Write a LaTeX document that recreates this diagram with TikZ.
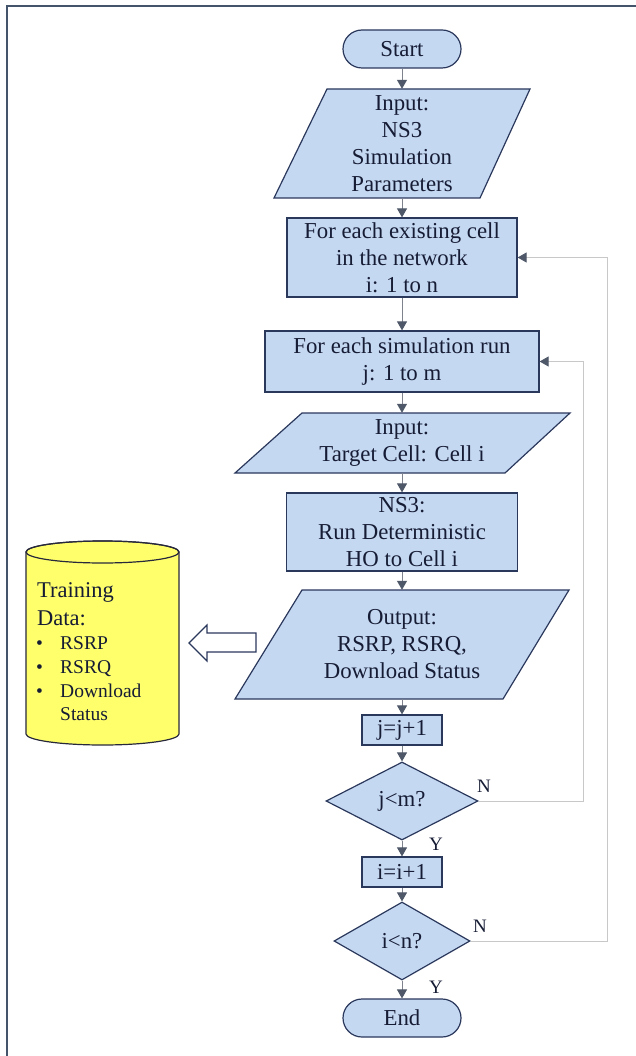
\documentclass[tikz,border=0pt]{standalone}
\usepackage{fontspec}
\setmainfont{Liberation Serif}
\usetikzlibrary{arrows.meta,shapes.geometric}

\definecolor{boxfill}{RGB}{197,216,242}
\definecolor{boxline}{RGB}{42,56,92}
\definecolor{txt}{RGB}{22,28,52}
\definecolor{flow}{RGB}{125,130,140}
\definecolor{tipc}{RGB}{78,88,104}
\definecolor{loopc}{RGB}{200,200,200}
\definecolor{dbfill}{RGB}{255,255,108}
\definecolor{dbline}{RGB}{40,40,60}
\definecolor{framec}{RGB}{68,84,106}

\tikzset{
  shapebase/.style={fill=boxfill, draw=boxline, line width=1.2pt, text=txt,
    font=\fontsize{22.8}{27}\selectfont, align=center, inner sep=0pt},
  procbox/.style={shapebase, rectangle},
  termbox/.style={shapebase, rectangle, rounded corners=19pt,
    minimum width=118pt, minimum height=38pt},
  decbox/.style={shapebase, diamond},
  iopath/.style={fill=boxfill, draw=boxline, line width=1.2pt, line join=miter},
  iotext/.style={text=txt, font=\fontsize{22.8}{27}\selectfont, align=center,
    inner sep=0pt},
  flowline/.style={draw=flow, line width=1pt,
    -{Triangle[width=10pt,length=9pt,color=tipc]}},
  loopline/.style={draw=loopc, line width=1pt,
    -{Triangle[width=10pt,length=9pt,color=tipc]}},
  branch/.style={text=txt, font=\fontsize{19}{22}\selectfont, inner sep=0pt},
  dbhead/.style={text=txt, font=\fontsize{22.5}{27}\selectfont, inner sep=0pt,
    anchor=base west},
  dbitem/.style={text=txt, font=\fontsize{19.5}{23}\selectfont, inner sep=0pt,
    anchor=base west},
}

\begin{document}
\begin{tikzpicture}[x=1pt,y=-1pt]
\useasboundingbox (0,0) rectangle (636,1056);

% page frame (only the top and left edges fall on the page)
\draw[framec, line width=2.2pt] (7,1060) -- (7,6) -- (640,6);

% ---- main column ----
\node[termbox] (start) at (402,49) {Start};

\draw[iopath] (327,89) -- (530,89) -- (480,198) -- (274,198) -- cycle;
\node[iotext, minimum height=109pt] (in1) at (402,143.5)
  {Input:\\NS3\\Simulation\\Parameters};

\node[procbox, minimum width=230pt, minimum height=79pt] (cellloop) at (402,257.5)
  {For each existing cell\\in the network\\i: 1 to n};

\node[procbox, minimum width=274pt, minimum height=61pt] (runloop) at (402,361.5)
  {For each simulation run\\j: 1 to m};

\draw[iopath] (302,413) -- (570,413) -- (505,473) -- (235,473) -- cycle;
\node[iotext, minimum height=60pt] (in2) at (402,443)
  {Input:\\Target Cell: Cell i};

\node[procbox, minimum width=231pt, minimum height=78pt] (ns3) at (402,532)
  {NS3:\\Run Deterministic\\HO to Cell i};

\draw[iopath] (302,590) -- (569,590) -- (503,699) -- (235,699) -- cycle;
\node[iotext, minimum height=109pt] (out) at (402,644.5)
  {Output:\\RSRP, RSRQ,\\Download Status};

\node[procbox, minimum width=80pt, minimum height=30pt] (jinc) at (402,730) {j=j+1};

\node[decbox, minimum width=152pt, minimum height=78pt] (jtest) at (402,801) {j<m?};

\node[procbox, minimum width=80pt, minimum height=30pt] (iinc) at (402,872) {i=i+1};

\node[decbox, minimum width=136pt, minimum height=78pt] (itest) at (402,941) {i<n?};

\node[termbox] (stop) at (402,1018) {End};

% ---- connectors ----
\draw[flowline] (start) -- (in1);
\draw[flowline] (in1) -- (cellloop);
\draw[flowline] (cellloop) -- (runloop);
\draw[flowline] (runloop) -- (in2);
\draw[flowline] (in2) -- (ns3);
\draw[flowline] (ns3) -- (out);
\draw[flowline] (out) -- (jinc);
\draw[flowline] (jinc) -- (jtest);
\draw[flowline] (jtest) -- (iinc);
\draw[flowline] (iinc) -- (itest);
\draw[flowline] (itest) -- (stop);

\coordinate (jback) at (583,801);
\coordinate (iback) at (607,941);
\draw[loopline] (jtest.east) -- (jback) |- (runloop.east);
\draw[loopline] (itest.east) -- (iback) |- (cellloop.east);

\node[branch] (jn) at (484,786) {N};
\node[branch] (jy) at (436,844) {Y};
\node[branch] (in) at (480,926) {N};
\node[branch] (iy) at (436,987) {Y};

% ---- training data store ----
\draw[fill=dbfill, draw=dbline, line width=1.2pt]
  (26,552) -- (26,734)
  arc[start angle=180, end angle=360, x radius=76.5pt, y radius=11pt]
  -- (179,552)
  arc[start angle=0, end angle=180, x radius=76.5pt, y radius=11pt] -- cycle;
\draw[draw=dbline, line width=1.2pt] (102.5,552) ellipse[x radius=76.5pt, y radius=11pt];

\node[dbhead] (dbt1) at (37,597) {Training};
\node[dbhead] (dbt2) at (37,625) {Data:};
\foreach \yy/\name/\lbl in {649/a/RSRP, 673/b/RSRQ, 697/c/Download} {
  \node[dbitem] (dbb\name) at (36,\yy) {\textbullet};
  \node[dbitem] (dbi\name) at (60,\yy) {\lbl};
}
\node[dbitem] (dbid) at (60,720) {Status};

% hollow arrow from the output towards the store
\draw[fill=white, draw=boxline, line width=1.2pt, line join=miter]
  (256,633) -- (207,633) -- (207,625) -- (189,643) -- (207,661)
  -- (207,652) -- (256,652) -- cycle;

\end{tikzpicture}
\end{document}
